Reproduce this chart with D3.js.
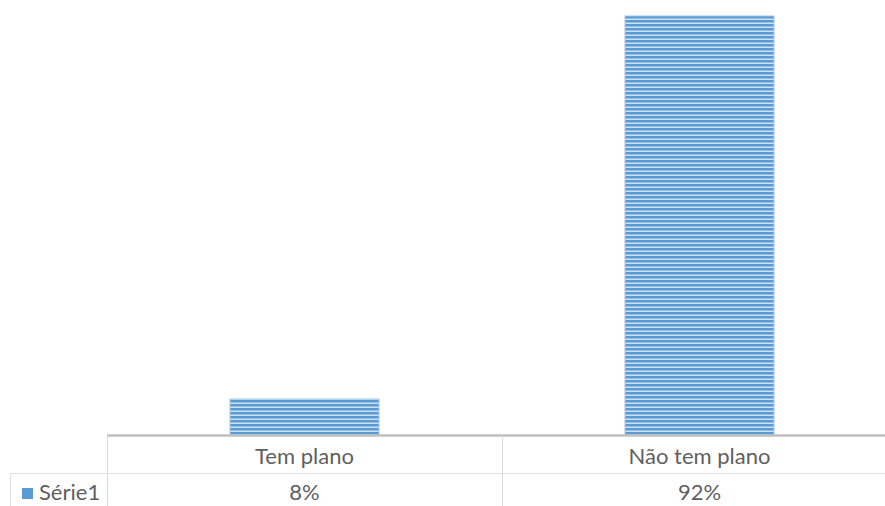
<!DOCTYPE html>
<html>
<head>
<meta charset="utf-8">
<script src="https://cdn.jsdelivr.net/npm/d3@7"></script>
<style>
html,body{margin:0;padding:0;background:#fff;}
svg{display:block;}
text{font-family:"Lato","Open Sans",sans-serif;fill:#5f5f5f;}
</style>
</head>
<body>
<svg id="chart" width="885" height="506"></svg>
<script>
const categories = ["Tem plano", "Não tem plano"];
const values = [8, 92];
const valueLabels = ["8%", "92%"];
const seriesName = "Série1";

const svg = d3.select("#chart");
const W = 885, H = 506;
const left = 107, right = 897, axisY = 435.5, topY = 16;
const rowLine = 473.5;

const x = d3.scaleBand().domain(categories).range([left, right]).paddingInner(0).paddingOuter(0);
const y = d3.scaleLinear().domain([0, 92]).range([axisY, topY]);

const defs = svg.append("defs");
const pat = defs.append("pattern").attr("id","stripes").attr("patternUnits","userSpaceOnUse")
  .attr("width", 8).attr("height", 4);
pat.append("rect").attr("width",8).attr("height",4).attr("fill","#cfe3f5");
pat.append("rect").attr("y",0).attr("width",8).attr("height",2).attr("fill","#5b9bd5");
pat.append("rect").attr("y",2).attr("width",8).attr("height",1).attr("fill","#8fbfe8");

const barW = x.bandwidth() * 0.377;
svg.selectAll("rect.bar").data(values).enter().append("rect")
  .attr("class","bar")
  .attr("x",(d,i)=>x(categories[i]) + x.bandwidth()/2 - barW/2)
  .attr("y",d=>y(d))
  .attr("width",barW)
  .attr("height",d=>y(0)-y(d))
  .attr("fill","url(#stripes)")
  .attr("stroke","#9cc3e6").attr("stroke-width",1);

// table lines
const g = svg.append("g");
g.append("line").attr("x1",left).attr("x2",W).attr("y1",axisY).attr("y2",axisY)
  .attr("stroke","#bfbfbf").attr("stroke-width",2.5);
g.append("line").attr("x1",10).attr("x2",W).attr("y1",rowLine).attr("y2",rowLine)
  .attr("stroke","#e0e0e0").attr("stroke-width",1);
g.append("line").attr("x1",10.5).attr("x2",10.5).attr("y1",rowLine).attr("y2",H)
  .attr("stroke","#e0e0e0").attr("stroke-width",1);
categories.forEach((c,i)=>{
  g.append("line").attr("x1",x(c)+0.5).attr("x2",x(c)+0.5).attr("y1",axisY).attr("y2",H)
    .attr("stroke","#d9d9d9").attr("stroke-width",1);
});

// category labels
svg.selectAll("text.cat").data(categories).enter().append("text")
  .attr("class","cat")
  .attr("x",d=>x(d)+x.bandwidth()/2).attr("y",464)
  .attr("text-anchor","middle").attr("font-size",22)
  .text(d=>d);

// value row
svg.selectAll("text.val").data(valueLabels).enter().append("text")
  .attr("class","val")
  .attr("x",(d,i)=>x(categories[i])+x.bandwidth()/2).attr("y",500)
  .attr("text-anchor","middle").attr("font-size",22)
  .text(d=>d);

// legend key
svg.append("rect").attr("x",22).attr("y",488).attr("width",11).attr("height",11).attr("fill","#5b9bd5");
svg.append("text").attr("x",39).attr("y",500).attr("font-size",22).text(seriesName);
</script>
</body>
</html>
